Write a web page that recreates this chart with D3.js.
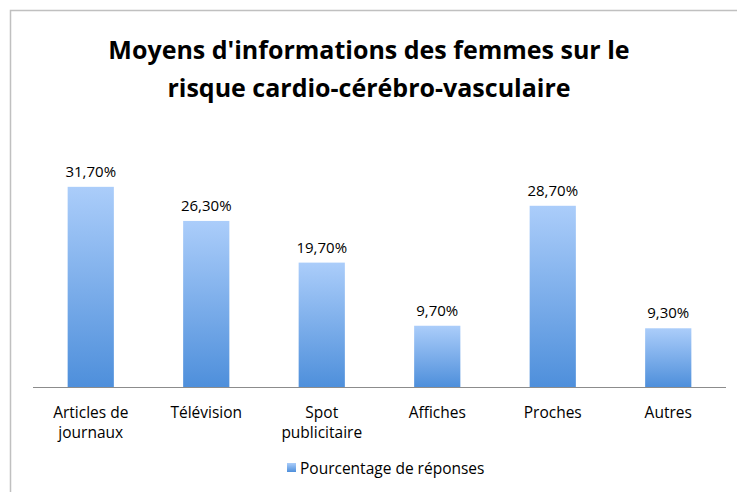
<!DOCTYPE html>
<html>
<head>
<meta charset="utf-8">
<script src="https://cdn.jsdelivr.net/npm/d3@7"></script>
<style>
  body { margin: 0; background: #fff; }
  svg { display: block; font-family: "Open Sans", "Noto Sans", sans-serif; }
</style>
</head>
<body>
<div id="chart"></div>
<script>
const categories = [["Articles de", "journaux"], ["Télévision"], ["Spot", "publicitaire"], ["Affiches"], ["Proches"], ["Autres"]];
const values = [31.7, 26.3, 19.7, 9.7, 28.7, 9.3];
const titleLines = ["Moyens d'informations des femmes sur le", "risque cardio-cérébro-vasculaire"];
const seriesName = "Pourcentage de réponses";

const width = 737, height = 492;
const margin = {top: 166, right: 11, bottom: 105, left: 33};

const svg = d3.select("#chart").append("svg")
    .attr("width", width)
    .attr("height", height);

// gradient for bars
const grad = svg.append("defs").append("linearGradient")
    .attr("id", "bar-grad")
    .attr("x1", "0%").attr("y1", "0%")
    .attr("x2", "0%").attr("y2", "100%");
grad.append("stop").attr("offset", "0%").attr("stop-color", "#abcdfa");
grad.append("stop").attr("offset", "100%").attr("stop-color", "#4e8fdb");

// outer frame
svg.append("rect")
    .attr("x", 10.5).attr("y", 10.5)
    .attr("width", width).attr("height", height)
    .attr("fill", "none")
    .attr("stroke", "#c0c0c0")
    .attr("stroke-width", 1.5);

const x = d3.scaleBand()
    .domain(d3.range(categories.length))
    .range([margin.left, width - margin.right])
    .paddingInner(0.6)
    .paddingOuter(0.3);

const y = d3.scaleLinear()
    .domain([0, 35])
    .range([height - margin.bottom, margin.top]);

// title
svg.append("text")
    .attr("x", 368)
    .attr("text-anchor", "middle")
    .attr("font-weight", "bold")
    .attr("font-size", 25)
    .attr("fill", "#000")
    .selectAll("tspan")
    .data(titleLines)
    .join("tspan")
    .attr("x", 369)
    .attr("y", (d, i) => 59 + i * 38)
    .text(d => d);

// bars
svg.append("g").selectAll("rect")
    .data(values)
    .join("rect")
    .attr("x", (d, i) => x(i))
    .attr("y", d => y(d))
    .attr("width", x.bandwidth())
    .attr("height", d => y(0) - y(d))
    .attr("fill", "url(#bar-grad)");

// value labels
svg.append("g").selectAll("text")
    .data(values)
    .join("text")
    .attr("x", (d, i) => x(i) + x.bandwidth() / 2)
    .attr("y", d => y(d) - 10)
    .attr("text-anchor", "middle")
    .attr("font-size", 15)
    .attr("fill", "#000")
    .text(d => d.toFixed(2).replace(".", ",") + "%");

// baseline
svg.append("line")
    .attr("x1", margin.left).attr("x2", width - margin.right)
    .attr("y1", y(0) + 0.5).attr("y2", y(0) + 0.5)
    .attr("stroke", "#8c8c8c")
    .attr("stroke-width", 1);

// category labels
svg.append("g").selectAll("text")
    .data(categories)
    .join("text")
    .attr("text-anchor", "middle")
    .attr("font-size", 15.5)
    .attr("fill", "#000")
    .each(function(lines, i) {
        d3.select(this).selectAll("tspan")
            .data(lines)
            .join("tspan")
            .attr("x", x(i) + x.bandwidth() / 2)
            .attr("y", (d, j) => y(0) + 31 + j * 20)
            .text(d => d);
    });

// legend
const legend = svg.append("g").attr("transform", "translate(287,463)");
legend.append("rect")
    .attr("width", 9).attr("height", 9)
    .attr("fill", "url(#bar-grad)");
legend.append("text")
    .attr("x", 13).attr("y", 10.5)
    .attr("font-size", 15.5)
    .attr("fill", "#000")
    .text(seriesName);
</script>
</body>
</html>
